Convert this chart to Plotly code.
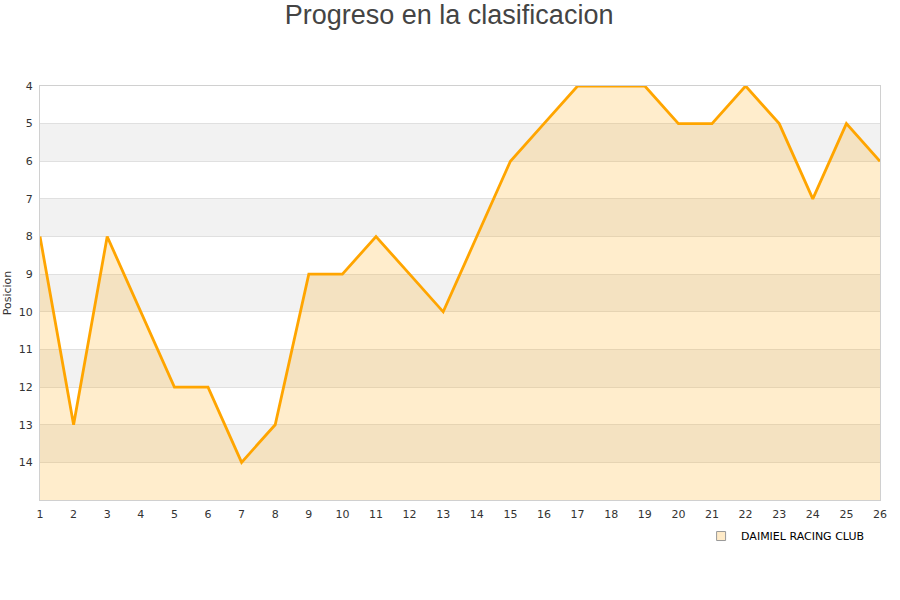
import plotly.graph_objects as go

jornadas = list(range(1, 27))
posiciones = [8, 13, 8, 10, 12, 12, 14, 13, 9, 9, 8, 9, 10, 8, 6, 5, 4, 4, 4, 5, 5, 4, 5, 7, 5, 6]
equipo = "DAIMIEL RACING CLUB"
y_ticks = list(range(4, 15))

fig = go.Figure()

# alternating background bands
shapes = []
for y0 in range(5, 15, 2):
    shapes.append(dict(type="rect", xref="paper", yref="y", x0=0, x1=1, y0=y0, y1=y0 + 1,
                       fillcolor="#f2f2f2", line=dict(width=0), layer="below"))

fig.add_trace(go.Scatter(
    x=jornadas, y=[15] * len(jornadas), mode="lines", line=dict(width=0),
    showlegend=False, hoverinfo="skip"))
fig.add_trace(go.Scatter(
    x=jornadas, y=posiciones, mode="lines", fill="tonexty",
    fillcolor="rgba(255,165,0,0.2)", line=dict(color="#FFA500", width=2.8),
    showlegend=False, cliponaxis=False))
fig.add_trace(go.Scatter(
    x=[None], y=[None], mode="markers", name=equipo,
    marker=dict(symbol="square", size=9, color="#FFEBC8", line=dict(color="#999999", width=1))))

fig.update_layout(
    width=900, height=600,
    paper_bgcolor="white", plot_bgcolor="white",
    margin=dict(l=40, r=20, t=86, b=100, autoexpand=False),
    title=dict(text="Progreso en la clasificacion", x=0.499, xanchor="center",
               xref="container", yref="container", y=0.975, yanchor="middle",
               font=dict(family="Liberation Sans, Arial", size=27, color="#444444")),
    font=dict(family="DejaVu Sans", size=11, color="#333333"),
    shapes=shapes,
    showlegend=True,
    legend=dict(orientation="h", x=0.987, xanchor="right", y=-0.087, yanchor="middle",
                font=dict(family="DejaVu Sans", size=11, color="#000000"),
                bgcolor="rgba(0,0,0,0)"),
    xaxis=dict(range=[1, 26], tickvals=jornadas, ticktext=[str(j) for j in jornadas],
               showgrid=False, zeroline=False, showline=True, linecolor="#d0d0d0", linewidth=1,
               mirror=True, ticks="", automargin=False, ticklabelstandoff=4,
               tickfont=dict(size=11, color="#333333")),
    yaxis=dict(range=[15, 4], tickvals=y_ticks, ticktext=[str(v) for v in y_ticks],
               showgrid=True, gridcolor="#e0e0e0", gridwidth=1, zeroline=False,
               showline=True, linecolor="#d0d0d0", linewidth=1, mirror=True, ticks="",
               ticklabelstandoff=4, automargin=False,
               title=dict(text="Posicion", font=dict(size=11, color="#333333"), standoff=4),
               tickfont=dict(size=11, color="#333333")),
)

fig.write_html("out.html", config={"displayModeBar": False},
               post_script="document.body.style.margin='0';")
